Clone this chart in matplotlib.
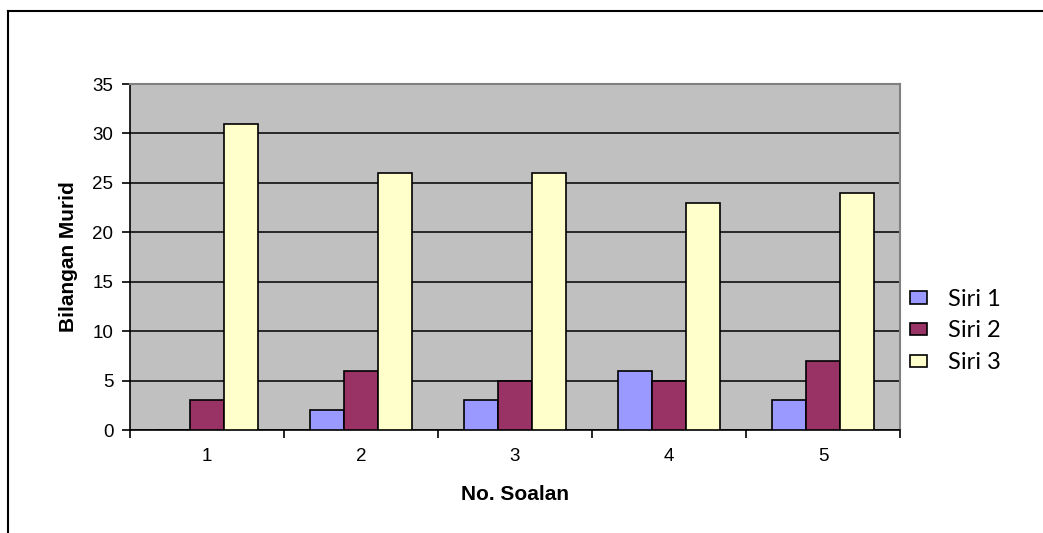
import matplotlib.pyplot as plt
from matplotlib.lines import Line2D
from matplotlib.patches import Patch

soalan = [1, 2, 3, 4, 5]
siri_1 = [0, 2, 3, 6, 3]
siri_2 = [3, 6, 5, 5, 7]
siri_3 = [31, 26, 26, 23, 24]
series = ["Siri 1", "Siri 2", "Siri 3"]
colors = ["#9999FF", "#993366", "#FFFFCC"]

plt.rcParams["font.family"] = ["Liberation Sans", "DejaVu Sans"]

fig = plt.figure(figsize=(10.43, 5.33), dpi=100)
ax = fig.add_axes([0.1246, 0.1932, 0.7383, 0.6492])
ax.set_facecolor("#C0C0C0")

w = 0.22
for i, (vals, c) in enumerate(zip([siri_1, siri_2, siri_3], colors)):
    xs = [s + (i - 1) * w for s in soalan]
    ax.bar(xs, vals, w, color=c, edgecolor="black", linewidth=1.2, zorder=3)

ax.set_xlim(0.5, 5.5)
ax.set_ylim(0, 35)
ax.set_yticks(range(0, 36, 5))
ax.yaxis.grid(True, color="black", linewidth=1.1, zorder=1)
ax.set_xticks(soalan)
ax.set_xticks([x + 0.5 for x in range(0, 6)], minor=True)
ax.tick_params(axis="x", which="major", length=0, pad=13, labelsize=13.5)
ax.tick_params(axis="x", which="minor", length=6, width=1.2, direction="out")
ax.tick_params(axis="y", length=6, width=1.2, labelsize=13.5, pad=6)

for s in ["top", "right"]:
    ax.spines[s].set_color("#808080")
    ax.spines[s].set_linewidth(1.5)
for s in ["left", "bottom"]:
    ax.spines[s].set_color("black")
    ax.spines[s].set_linewidth(1.2)

ax.set_ylabel("Bilangan Murid", fontsize=15, fontweight="bold", labelpad=10)
ax.set_xlabel("No. Soalan", fontsize=15, fontweight="bold", labelpad=14)

handles = [Patch(facecolor=c, edgecolor="black", linewidth=1.2) for c in colors]
fig.legend(handles, series, loc="center left", bbox_to_anchor=(0.861, 0.379),
           frameon=False, prop={"family": "Lato", "size": 17}, borderpad=0,
           handlelength=0.72, handleheight=0.42, handletextpad=0.89, labelspacing=0.45)

# outer chart frame (top and left edges visible)
fig.add_artist(Line2D([8 / 1043, 1], [1 - 11 / 533, 1 - 11 / 533], color="black", linewidth=1.5))
fig.add_artist(Line2D([8 / 1043, 8 / 1043], [0, 1 - 11 / 533], color="black", linewidth=1.5))

fig.savefig("out.png", dpi=100)
